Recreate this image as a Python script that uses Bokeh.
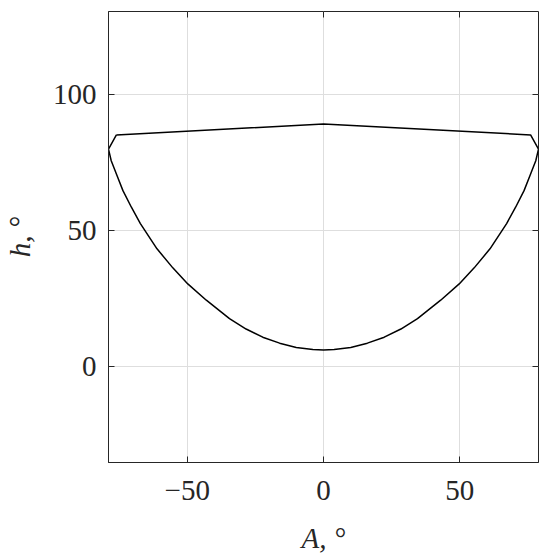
from bokeh.plotting import figure
from bokeh.models import Range1d, FixedTicker, LinearAxis
from bokeh.embed import file_html
from bokeh.resources import INLINE

# Sun-path style closed contour: azimuth A (deg) vs altitude h (deg)
azimuth = [-76.0, 0.0, 76.0,
           78.9, 77.9, 76.0, 73.6, 70.5, 67.2, 61.1, 55.3, 49.8, 43.0, 34.5,
           28.4, 22.3, 16.1, 10.0, 3.9, 0.0,
           -3.9, -10.0, -16.1, -22.3, -28.4,
           -34.5, -43.0, -49.8, -55.3, -61.1, -67.2, -70.5, -73.6, -76.0, -77.9, -78.9,
           -76.0]
altitude = [85.2, 89.2, 85.2,
            80.0, 75.7, 70.8, 64.7, 58.6, 52.6, 43.3, 36.3, 30.4, 24.4, 17.6,
            13.8, 10.8, 8.6, 7.0, 6.25, 6.1,
            6.25, 7.0, 8.6, 10.8, 13.8,
            17.6, 24.4, 30.4, 36.3, 43.3, 52.6, 58.6, 64.7, 70.8, 75.7, 80.0,
            85.2]

x_ticks = [-50, 0, 50]
y_ticks = [0, 50, 100]

FONT = "Liberation Serif"
AXC = "#262626"

p = figure(frame_width=430, frame_height=451,
           x_range=Range1d(-78.9, 78.9), y_range=Range1d(-35.3, 130.6),
           output_backend="svg", toolbar_location=None,
           min_border_left=106, min_border_right=4, min_border_top=11, min_border_bottom=88,
           background_fill_color="white", border_fill_color="white")

p.outline_line_color = AXC
p.outline_line_width = 1

p.line(azimuth, altitude, line_color="black", line_width=1.5)

for ax in (p.xaxis[0], p.yaxis[0]):
    ax.major_tick_in = 6
    ax.major_tick_out = 0
    ax.minor_tick_line_color = None
    ax.axis_line_color = AXC
    ax.major_tick_line_color = AXC
    ax.major_label_text_font = FONT
    ax.major_label_text_font_size = "29px"
    ax.major_label_text_color = AXC
    ax.axis_label_text_font = FONT
    ax.axis_label_text_font_size = "29px"
    ax.axis_label_text_font_style = "italic"
    ax.axis_label_text_color = AXC

p.xaxis[0].ticker = FixedTicker(ticks=x_ticks)
p.yaxis[0].ticker = FixedTicker(ticks=y_ticks)
p.xaxis[0].major_label_overrides = {-50: "\u221250"}
p.xaxis[0].axis_label = "A, \u00b0"
p.yaxis[0].axis_label = "h, \u00b0"
p.xaxis[0].major_label_standoff = 18
p.yaxis[0].major_label_standoff = 12
p.xaxis[0].axis_label_standoff = 19
p.yaxis[0].axis_label_standoff = 14

p.xgrid.ticker = FixedTicker(ticks=x_ticks)
p.ygrid.ticker = FixedTicker(ticks=y_ticks)
p.xgrid.grid_line_color = "#dedede"
p.ygrid.grid_line_color = "#dedede"
p.xgrid.grid_line_width = 1
p.ygrid.grid_line_width = 1

# mirror tick marks on top/right
top = LinearAxis(ticker=FixedTicker(ticks=x_ticks), major_tick_in=6, major_tick_out=0,
                 minor_tick_line_color=None, axis_line_color=None,
                 major_tick_line_color=AXC, major_label_text_font_size="0px",
                 major_label_text_color=None, major_label_standoff=0)
right = LinearAxis(ticker=FixedTicker(ticks=y_ticks), major_tick_in=6, major_tick_out=0,
                   minor_tick_line_color=None, axis_line_color=None,
                   major_tick_line_color=AXC, major_label_text_font_size="0px",
                   major_label_text_color=None, major_label_standoff=0)
p.add_layout(top, "above")
p.add_layout(right, "right")

open("out.html", "w").write(file_html(p, INLINE))
